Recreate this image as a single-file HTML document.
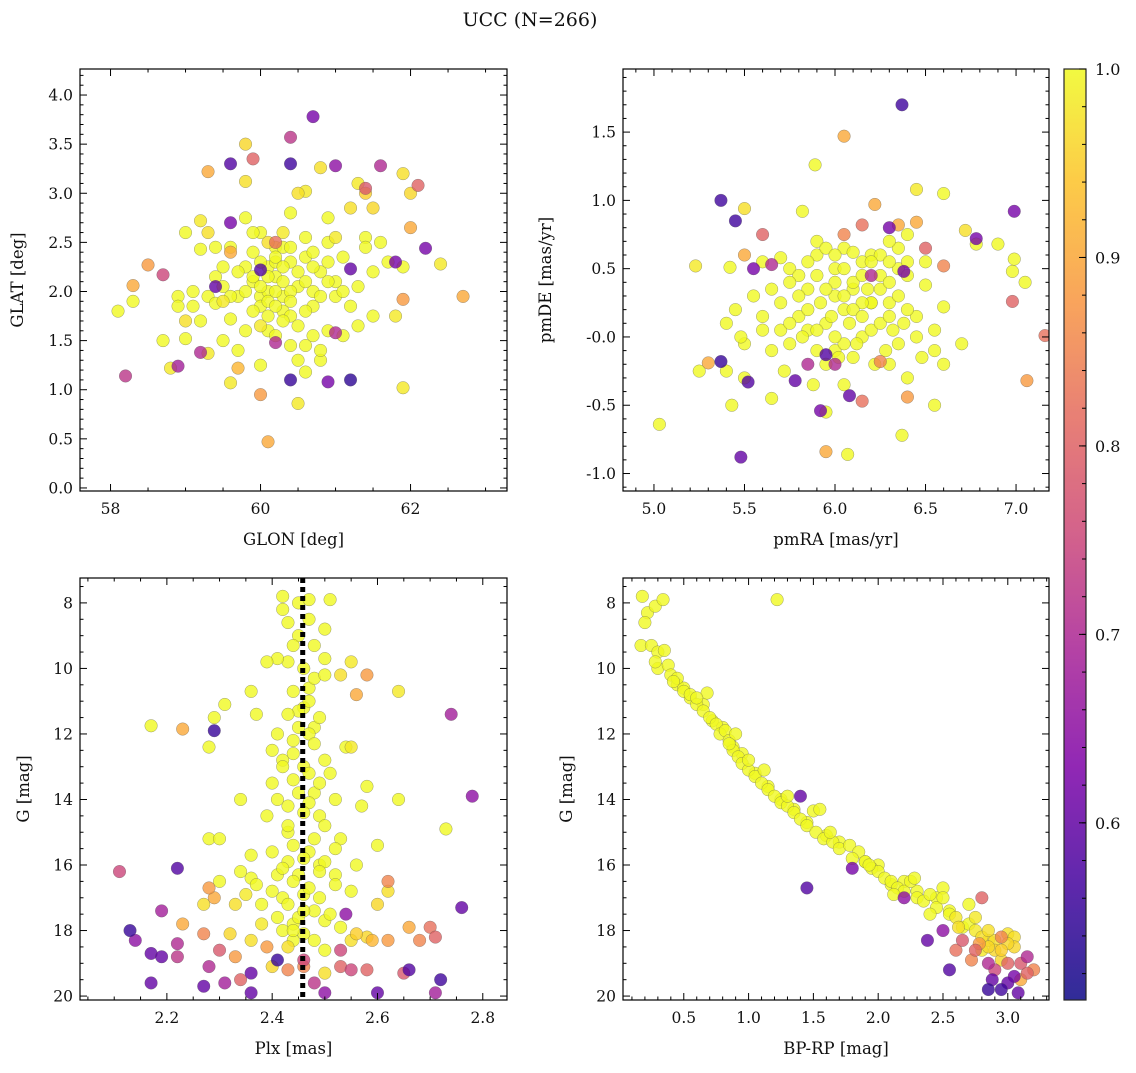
<!DOCTYPE html>
<html><head><meta charset="utf-8"><style>
body{margin:0;background:#fff;}
svg text{font-family:"DejaVu Serif","Liberation Serif",serif;fill:#111;}
</style></head><body>
<svg id="fig" width="1136" height="1068" viewBox="0 0 1136 1068" xmlns="http://www.w3.org/2000/svg">
<defs>
<linearGradient id="cbgrad" x1="0" y1="1" x2="0" y2="0">
<stop offset="0" stop-color="#0d0887"/><stop offset="0.13" stop-color="#46039f"/><stop offset="0.25" stop-color="#7e03a8"/><stop offset="0.38" stop-color="#a92395"/><stop offset="0.5" stop-color="#cc4778"/><stop offset="0.63" stop-color="#e56b5d"/><stop offset="0.75" stop-color="#f89540"/><stop offset="0.88" stop-color="#fdc328"/><stop offset="1" stop-color="#f0f921"/>
</linearGradient>
</defs>
<text x="530" y="26" font-size="19" text-anchor="middle">UCC (N=266)</text>
<rect x="1064" y="69" width="22" height="931" fill="url(#cbgrad)" opacity="0.85" stroke="#000" stroke-width="1.2"/>
</svg>
<script>
// ---- Panel 1 data: GLON / GLAT ----
const p1x=[59.9,60.0,60.1,60.2,60.3,60.4,60.5,60.6,60.0,60.1,60.2,60.3,60.4,59.7,59.8,59.9,60.5,60.6,60.7,60.8,61.0,61.1,59.5,59.4,59.3,60.9,61.2,61.4,59.8,60.2,60.3,60.1,59.6,60.7,60.0,61.5,59.1,60.4,60.6,60.9,
58.1,58.3,58.7,58.8,58.9,58.9,59.0,59.0,59.1,59.2,59.2,59.2,59.3,59.4,59.4,59.5,59.5,59.5,59.6,59.6,59.6,59.7,59.7,59.8,59.8,59.8,59.8,59.9,59.9,59.9,60.0,60.0,60.0,60.0,60.1,60.1,60.1,60.1,60.2,60.2,60.2,60.2,60.3,60.3,60.3,60.3,60.4,60.4,60.4,60.4,60.5,60.5,60.5,60.5,60.6,60.6,60.6,60.7,60.7,60.7,60.8,60.8,60.8,60.8,60.9,60.9,60.9,61.0,61.0,61.1,61.1,61.2,61.3,61.3,61.3,61.4,61.5,61.5,61.6,61.7,61.8,61.9,61.9,61.9,62.0,62.4,61.4,59.3,59.0,60.6,
60.7,60.4,59.6,59.9,60.4,61.0,61.6,62.1,59.3,61.4,58.2,58.3,58.5,58.7,58.9,59.2,60.0,60.1,60.4,60.9,61.2,62.7,61.9,62.0,62.2,61.2,60.0,59.6,59.4,60.2,61.0,60.2,59.6,59.7,61.8];
const p1y=[2.1,1.95,2.25,2.15,1.95,2.3,2.05,2.35,1.85,2.0,2.3,1.8,1.75,1.95,2.25,2.15,1.65,2.55,2.4,2.2,2.1,2.35,2.25,2.45,1.95,1.6,1.85,2.55,1.6,2.45,2.45,1.6,1.95,1.85,2.6,1.75,1.85,1.45,1.45,2.3,
1.8,1.9,1.5,1.22,1.95,1.85,2.6,1.7,2.0,2.72,1.7,2.43,2.6,2.15,1.88,2.05,1.5,1.9,2.45,1.72,1.07,2.2,1.4,2.75,3.12,3.5,2.0,1.8,2.4,2.6,2.3,2.05,1.65,1.25,2.15,1.9,2.5,1.75,2.35,2.0,1.55,1.85,2.25,2.1,1.7,2.6,2.0,1.9,2.45,2.8,3.0,2.2,1.3,0.86,2.1,1.8,3.02,2.25,1.55,2.0,1.3,1.4,1.95,3.26,2.75,2.5,2.1,1.95,2.55,1.55,2.0,2.85,3.1,2.05,1.65,2.45,2.85,2.2,2.5,2.3,1.75,2.25,1.02,3.2,3.0,2.28,3.0,1.37,1.52,1.18,
3.78,3.57,3.3,3.35,3.3,3.28,3.28,3.08,3.22,3.05,1.14,2.06,2.27,2.17,1.24,1.38,0.95,0.47,1.1,1.08,1.1,1.95,1.92,2.65,2.44,2.23,2.22,2.7,2.05,1.48,1.58,2.5,2.4,1.22,2.3];
const p1p=[1,1,1,1,1,1,1,1,1,1,1,1,1,1,1,1,1,1,1,1,1,1,1,1,1,1,1,1,1,1,1,1,1,1,1,1,1,1,1,1,
1,1,1,.98,1,1,1,.97,1,.98,1,1,.97,1,1,1,1,.98,1,1,.98,1,1,1,.97,.96,1,1,1,1,1,1,.98,1,1,1,.97,1,1,1,1,1,1,1,1,.98,1,1,1,1,.97,1,1,.98,1,1,.98,1,1,1,1,1,1,.97,1,1,1,1,.98,1,1,.97,.98,1,1,1,.96,1,1,1,.98,1,.98,.97,.96,.98,.95,.98,1,1,
.62,.72,.58,.8,.56,.65,.7,.8,.9,.78,.72,.9,.88,.75,.68,.7,.88,.9,.55,.62,.54,.9,.88,.9,.62,.6,.58,.62,.6,.7,.7,.82,.9,.92,.62];
// ---- Panel 2 data: pmRA / pmDE ----
const p2x=[6.0,6.1,6.2,6.05,6.15,5.95,5.9,5.85,6.25,6.3,6.35,6.0,6.1,6.2,5.8,5.75,6.4,6.45,5.7,5.65,6.05,6.15,6.25,5.95,6.1,6.3,5.9,6.0,5.6,6.5,6.2,6.35,5.85,6.05,6.4,5.75,6.15,6.0,5.9,6.3,
5.89,5.03,6.07,6.37,5.43,5.5,5.82,6.45,6.6,6.3,6.4,6.72,6.78,6.99,6.98,7.05,5.23,5.42,5.6,5.7,5.8,5.9,5.95,6.0,6.05,6.1,6.15,6.2,6.25,6.3,6.35,6.4,6.5,6.55,6.6,6.55,6.7,6.6,6.55,5.25,5.4,5.45,5.5,5.5,5.55,5.6,5.65,5.7,5.72,5.75,5.8,5.82,5.85,5.88,5.9,5.92,5.95,5.98,6.0,6.02,6.05,6.08,6.1,6.12,6.15,6.18,6.2,6.22,6.25,6.28,6.3,6.32,6.35,6.38,6.4,6.45,6.48,5.65,5.95,5.4,5.85,5.75,6.05,5.48,6.9,
6.37,5.37,5.45,5.48,5.37,6.99,6.78,6.3,5.95,5.78,5.92,6.08,5.52,6.38,5.55,5.65,6.05,6.22,6.98,7.16,7.06,5.95,5.3,6.4,6.35,6.45,6.6,6.15,6.15,6.05,6.25,5.5,5.6,6.5,5.85,6.0,6.2];
const p2y=[0.4,0.35,0.25,0.2,0.0,0.1,0.45,0.35,0.45,0.25,0.5,-0.1,-0.15,0.6,0.15,-0.05,0.45,0.15,0.05,0.35,-0.05,0.55,0.6,-0.2,0.4,-0.2,-0.1,0.3,0.05,0.55,0.25,0.65,0.05,0.65,0.55,0.5,0.25,0.5,0.6,0.55,
1.26,-0.64,-0.86,-0.72,-0.5,0.94,0.92,1.08,1.05,0.7,0.75,0.78,0.68,0.57,0.48,0.4,0.52,0.51,0.55,0.58,0.45,0.7,0.65,0.6,0.5,0.62,0.45,0.55,0.35,0.4,0.3,0.2,0.38,0.05,0.22,-0.1,-0.05,-0.2,-0.5,-0.25,-0.25,0.2,-0.05,-0.3,0.3,0.15,-0.1,0.25,-0.25,0.1,0.3,0.0,0.2,-0.35,0.05,0.25,0.35,0.15,0.0,-0.15,0.3,0.1,0.2,-0.05,0.15,0.35,0.05,-0.2,0.1,-0.1,0.15,0.05,-0.05,0.1,-0.3,0.0,-0.15,-0.45,-0.55,0.1,0.55,0.4,-0.35,0.0,0.68,
1.70,1.0,0.85,-0.88,-0.18,0.92,0.72,0.8,-0.13,-0.32,-0.54,-0.43,-0.33,0.48,0.5,0.53,1.47,0.97,0.26,0.01,-0.32,-0.84,-0.19,-0.44,0.82,0.84,0.52,-0.47,0.82,0.75,-0.18,0.6,0.75,0.65,-0.2,-0.2,0.45];
const p2p=[1,1,1,1,1,1,1,1,1,1,1,1,1,1,1,1,1,1,1,1,1,1,1,1,1,1,1,1,1,1,1,1,1,1,1,1,1,1,1,1,
1,1,1,1,1,.97,1,.98,1,1,1,.97,1,1,1,1,.98,1,1,1,1,1,1,1,1,1,1,1,1,1,1,1,1,1,1,1,1,1,1,1,1,1,1,1,1,1,1,1,1,1,1,1,1,1,1,1,1,1,1,1,1,1,1,1,1,1,1,1,1,1,1,1,1,1,1,1,1,1,1,1,1,1,1,1,1,
.56,.56,.56,.6,.55,.62,.62,.62,.58,.6,.62,.6,.58,.62,.62,.7,.9,.9,.8,.82,.88,.9,.9,.88,.9,.9,.85,.82,.82,.85,.85,.9,.8,.8,.7,.7,.7];
// ---- Panel 3 data: Plx / G ----
const p3x=[2.44,2.46,2.48,2.43,2.45,2.47,2.42,2.49,2.44,2.46,2.41,2.5,2.43,2.47,2.45,2.48,2.42,2.39,2.51,2.44,2.46,2.38,2.52,2.43,2.47,2.4,2.49,2.45,2.53,2.36,2.44,2.48,2.42,2.5,2.46,2.34,2.56,2.47,2.43,2.45,
2.42,2.42,2.45,2.47,2.51,2.43,2.47,2.5,2.44,2.48,2.5,2.46,2.48,2.5,2.41,2.39,2.44,2.47,2.43,2.45,2.49,2.37,2.41,2.48,2.44,2.42,2.47,2.5,2.54,2.4,2.45,2.49,2.52,2.41,2.46,2.43,2.5,2.48,2.44,2.4,2.52,2.46,2.42,2.49,2.44,2.47,2.4,2.52,2.55,2.37,2.35,2.43,2.49,2.46,2.41,2.51,2.53,2.38,2.33,2.44,2.48,2.5,2.43,2.36,2.32,2.55,2.58,2.3,2.28,2.3,2.36,2.34,2.17,2.28,2.29,2.73,2.64,2.31,2.58,2.6,2.62,2.64,2.55,2.53,2.55,2.6,2.27,2.56,2.4,2.5,2.57,2.36,
2.11,2.13,2.14,2.17,2.17,2.19,2.19,2.22,2.22,2.22,2.29,2.74,2.78,2.76,2.72,2.71,2.23,2.58,2.56,2.23,2.27,2.28,2.29,2.3,2.28,2.31,2.27,2.34,2.36,2.36,2.43,2.46,2.5,2.53,2.55,2.58,2.6,2.62,2.65,2.66,2.68,2.7,2.71,2.62,2.66,2.54,2.53,2.48,2.39,2.46,2.41,2.59,2.33];
const p3y=[12.2,11.2,13.8,15.0,16.3,14.1,17.0,16.0,17.8,18.1,16.3,15.9,14.2,10.6,11.3,11.8,12.8,14.5,13.2,13.4,16.9,17.2,16.3,15.9,15.6,12.5,14.5,17.6,15.2,16.4,18.3,17.4,18.0,17.7,13.0,16.2,16.0,12.0,9.8,9.0,
7.8,8.2,8.0,7.9,7.9,8.6,8.5,8.8,9.3,9.3,9.7,10.0,10.3,10.2,9.7,9.8,10.7,11.0,11.4,11.8,11.5,11.4,12.0,12.3,12.6,13.0,13.2,12.8,12.4,13.5,13.8,13.5,14.0,14.0,14.4,14.8,14.8,15.2,15.4,15.6,15.5,15.8,16.1,16.2,16.5,16.7,16.8,16.6,16.8,16.6,16.9,17.2,17.0,17.4,17.6,17.5,17.9,17.8,17.2,18.0,18.3,18.6,18.5,18.3,18.1,18.3,18.2,16.5,15.2,15.2,15.7,14.0,11.75,12.4,11.5,14.9,10.7,11.1,13.6,15.4,16.8,14.0,12.4,10.2,9.8,17.2,17.2,18.1,19.1,19.3,14.2,10.7,
16.2,18.0,18.3,18.7,19.6,17.4,18.8,16.1,18.4,18.8,11.9,11.4,13.9,17.3,19.5,19.9,11.85,10.2,10.8,17.8,18.1,16.7,17.0,18.6,19.1,19.6,19.7,19.5,19.3,19.9,19.2,19.1,19.9,19.1,19.2,19.2,19.9,16.5,19.3,17.9,18.3,17.9,18.2,18.3,19.2,17.5,18.6,19.6,18.5,18.9,18.9,18.3,18.8];
const p3p=[1,1,1,1,1,1,1,1,1,1,1,1,1,1,1,1,1,1,1,1,1,1,1,1,1,1,1,1,1,1,1,1,1,1,1,1,1,1,1,1,
1,1,1,1,1,1,1,1,1,1,1,1,1,1,1,1,1,1,1,1,1,1,1,1,1,1,1,1,1,1,1,1,1,1,1,1,1,1,1,1,1,1,1,1,1,1,1,1,1,1,.98,1,1,1,1,1,1,.98,.97,1,1,1,.97,.97,.96,.97,.96,1,1,1,1,1,1,1,1,1,.98,1,1,1,.97,1,.98,.97,.98,.96,.97,.95,.96,.97,1,1,
.75,.55,.65,.6,.6,.68,.6,.58,.7,.72,.55,.68,.65,.6,.56,.68,.9,.88,.9,.9,.85,.88,.9,.78,.7,.68,.6,.8,.6,.6,.85,.85,.65,.8,.75,.8,.6,.85,.78,.9,.85,.82,.8,.88,.58,.65,.75,.72,.88,.75,.55,.92,.88];
// ---- Panel 4 data: BP-RP / G ----
const p4x=[0.3,0.45,0.55,0.65,0.72,0.8,0.88,0.95,1.05,1.15,1.25,1.35,1.45,1.6,1.7,1.9,2.0,2.1,2.2,2.3,2.45,2.55,2.65,2.75,2.85,2.9,3.0,3.05,2.8,0.5,
0.18,0.22,0.2,0.28,0.34,0.17,0.25,0.3,0.35,0.28,0.38,0.4,0.45,0.5,0.55,0.6,0.65,0.68,0.7,0.75,0.78,0.82,0.85,0.88,0.9,0.92,0.95,1.0,1.05,1.1,1.12,1.15,1.2,1.25,1.3,1.35,1.4,1.45,1.5,1.52,1.58,1.65,1.7,1.78,1.85,1.9,1.95,2.0,2.05,2.1,2.15,2.2,2.25,2.3,2.35,2.4,2.45,2.5,2.55,2.6,2.62,2.7,2.75,2.8,2.85,2.9,2.95,3.0,3.05,2.95,1.22,1.55,1.63,0.85,1.93,2.12,2.28,2.5,2.7,0.42,0.6,1.0,1.3,1.8,2.4,2.85,
1.45,1.4,1.8,2.2,2.38,2.55,2.5,2.65,2.75,2.85,2.88,2.85,2.95,3.0,3.08,2.9,3.1,3.15,3.2,3.15,3.0,2.8,2.95,2.72,3.05,2.78,2.6,3.1];
const p4y=[10.0,10.5,10.9,11.1,11.6,11.8,12.4,12.6,13.2,13.6,14.0,14.3,14.7,15.1,15.3,15.9,16.0,16.6,16.5,16.8,17.0,17.4,17.9,17.6,18.3,18.6,18.1,18.5,18.6,10.6,
7.8,8.3,8.6,8.1,7.9,9.3,9.3,9.5,9.45,9.8,9.9,10.2,10.3,10.7,10.8,11.1,11.3,10.75,11.5,11.7,12.0,11.9,12.2,12.5,12.0,12.7,12.9,13.1,13.3,13.5,13.1,13.7,13.9,14.1,14.2,14.4,14.6,14.8,14.35,15.0,15.2,15.3,15.5,15.4,15.6,15.9,16.1,16.2,16.4,16.5,16.7,16.8,16.5,17.0,17.1,16.9,17.3,16.7,17.5,17.6,17.9,17.8,18.0,18.2,18.5,18.3,18.6,18.4,18.2,18.9,7.9,14.3,15.0,12.3,16.0,16.9,16.4,17.0,17.2,10.4,10.9,12.8,13.9,15.8,17.5,18.0,
16.7,13.9,16.1,17.0,18.3,19.2,18.0,18.3,18.6,19.0,19.5,19.8,19.8,19.6,19.9,19.2,19.0,19.3,19.2,18.8,19.0,17.0,18.2,18.9,19.4,18.4,18.6,19.5];
const p4p=[1,1,1,1,1,1,1,1,1,1,1,1,1,1,1,1,1,1,1,1,1,1,1,.98,.97,.96,.97,.96,.98,1,
1,1,1,1,1,1,1,1,1,1,1,1,1,1,1,1,1,1,1,1,1,1,1,1,1,1,1,1,1,1,1,1,1,1,1,1,1,1,1,1,1,1,1,1,1,1,1,1,1,1,1,1,1,1,1,1,1,1,1,.98,.97,1,.98,.97,.96,.97,.95,.96,.97,.96,1,1,1,1,1,1,1,1,1,1,1,1,1,1,1,.97,
.58,.6,.62,.65,.6,.58,.65,.78,.8,.7,.6,.55,.56,.6,.6,.75,.78,.8,.85,.7,.8,.8,.85,.85,.62,.88,.82,.9];
// colorbar
const cbTicks=[0.6,0.7,0.8,0.9,1.0];

const NS="http://www.w3.org/2000/svg";
const svg=document.getElementById('fig');
const VMIN=0.506,VMAX=1.0;
const stops=[[13,8,135],[70,3,159],[126,3,168],[169,35,149],[204,71,120],[229,107,93],[248,149,64],[253,195,40],[240,249,33]];
function cmap(v){let t=(v-VMIN)/(VMAX-VMIN);t=Math.max(0,Math.min(1,t));const f=t*(stops.length-1);const i=Math.min(stops.length-2,Math.floor(f));const r=f-i;const a=stops[i],b=stops[i+1];return `rgb(${Math.round(a[0]+(b[0]-a[0])*r)},${Math.round(a[1]+(b[1]-a[1])*r)},${Math.round(a[2]+(b[2]-a[2])*r)})`;}
function mk(tag,attrs,parent){const e=document.createElementNS(NS,tag);for(const k in attrs)e.setAttribute(k,attrs[k]);(parent||svg).appendChild(e);return e;}
function fmt(v,d){return v.toFixed(d);}

function panel(cfg){
  const {id,L,T,R,B,x0,x1,y0,y1,inv,xs,ys,ps,xMaj,xMin,yMaj,yMin,xd,yd,xlabel,ylabel,ylx,vline}=cfg;
  const sx=v=>L+(v-x0)/(x1-x0)*(R-L);
  const sy=inv?(v=>T+(v-y0)/(y1-y0)*(B-T)):(v=>B-(v-y0)/(y1-y0)*(B-T));
  const g=mk('g',{});
  
  
  const clip=mk('clipPath',{id:id+'clip'},g);mk('rect',{x:L,y:T,width:R-L,height:B-T},clip);
  const pts=mk('g',{'clip-path':`url(#${id}clip)`},g);
  
  
  const idx=xs.map((_,i)=>i).sort((a,b)=>ps[b]-ps[a]);
  for(const i of idx){
    const c=mk('circle',{cx:sx(xs[i]),cy:sy(ys[i]),r:6.3,fill:cmap(ps[i]),'fill-opacity':0.8,stroke:'#555','stroke-width':0.4,'stroke-opacity':0.7},pts);
    
    
  }
  if(vline!==undefined){
    const l=mk('line',{x1:sx(vline),x2:sx(vline),y1:T,y2:B,stroke:'#000','stroke-width':5,'stroke-dasharray':'5,4'},g);
    
    
  }
  mk('rect',{x:L,y:T,width:R-L,height:B-T,fill:'none',stroke:'#000','stroke-width':1.2},g);
  const eps=1e-9;
  const xlo=Math.min(x0,x1),xhi=Math.max(x0,x1);
  for(let v=Math.ceil(xlo/xMin-eps)*xMin;v<=xhi+eps;v+=xMin){
    const isMaj=Math.abs(v/xMaj-Math.round(v/xMaj))<1e-6;const len=isMaj?7:3.5;const X=sx(v);
    mk('line',{x1:X,x2:X,y1:B,y2:B-len,stroke:'#000','stroke-width':1},g);
    mk('line',{x1:X,x2:X,y1:T,y2:T+len,stroke:'#000','stroke-width':1},g);
    if(isMaj){const t=mk('text',{x:X,y:B+23,'font-size':15.5,'text-anchor':'middle'},g);t.textContent=fmt(v,xd);
      
      }
  }
  const ylo=Math.min(y0,y1),yhi=Math.max(y0,y1);
  for(let v=Math.ceil(ylo/yMin-eps)*yMin;v<=yhi+eps;v+=yMin){
    const isMaj=Math.abs(v/yMaj-Math.round(v/yMaj))<1e-6;const len=isMaj?7:3.5;const Y=sy(v);
    mk('line',{x1:L,x2:L+len,y1:Y,y2:Y,stroke:'#000','stroke-width':1},g);
    mk('line',{x1:R,x2:R-len,y1:Y,y2:Y,stroke:'#000','stroke-width':1},g);
    if(isMaj){const t=mk('text',{x:L-7,y:Y+5.5,'font-size':15.5,'text-anchor':'end'},g);t.textContent=fmt(v,yd);
      
      }
  }
  const xl=mk('text',{x:(L+R)/2,y:B+54,'font-size':16.5,'text-anchor':'middle'},g);xl.textContent=xlabel;
  
  
  const yl=mk('text',{x:ylx,y:(T+B)/2,'font-size':16.5,'text-anchor':'middle',transform:`rotate(-90 ${ylx} ${(T+B)/2})`},g);yl.textContent=ylabel;
  
  
}
panel({id:'glon-glat',L:80,T:69,R:507,B:491,x0:57.593,x1:63.286,y0:-0.031,y1:4.265,xs:p1x,ys:p1y,ps:p1p,xMaj:2,xMin:0.5,yMaj:0.5,yMin:0.1,xd:0,yd:1,xlabel:'GLON [deg]',ylabel:'GLAT [deg]',ylx:23});
panel({id:'pm',L:623,T:69,R:1049,B:491,x0:4.829,x1:7.182,y0:-1.128,y1:1.962,xs:p2x,ys:p2y,ps:p2p,xMaj:0.5,xMin:0.1,yMaj:0.5,yMin:0.1,xd:1,yd:1,xlabel:'pmRA [mas/yr]',ylabel:'pmDE [mas/yr]',ylx:551});
panel({id:'plx-g',L:80,T:578,R:507,B:1000,x0:2.035,x1:2.846,y0:7.24,y1:20.12,inv:true,xs:p3x,ys:p3y,ps:p3p,xMaj:0.2,xMin:0.05,yMaj:2,yMin:0.5,xd:1,yd:0,xlabel:'Plx [mas]',ylabel:'G [mag]',ylx:29,vline:2.458});
panel({id:'cmd',L:623,T:578,R:1049,B:1000,x0:0.031,x1:3.318,y0:7.24,y1:20.12,inv:true,xs:p4x,ys:p4y,ps:p4p,xMaj:0.5,xMin:0.1,yMaj:2,yMin:0.5,xd:1,yd:0,xlabel:'BP-RP [mag]',ylabel:'G [mag]',ylx:572});
const cby=v=>1000-(v-VMIN)/(VMAX-VMIN)*931;
for(let v=0.52;v<=1.0001;v+=0.02){const Y=cby(v);mk('line',{x1:1086,x2:1082,y1:Y,y2:Y,stroke:'#000','stroke-width':1});}
for(const v of cbTicks){const Y=cby(v);mk('line',{x1:1086,x2:1079,y1:Y,y2:Y,stroke:'#000','stroke-width':1});
  const t=mk('text',{x:1095,y:Y+6,'font-size':16});t.textContent=v.toFixed(1);
  
  }
</script>
</body></html>
